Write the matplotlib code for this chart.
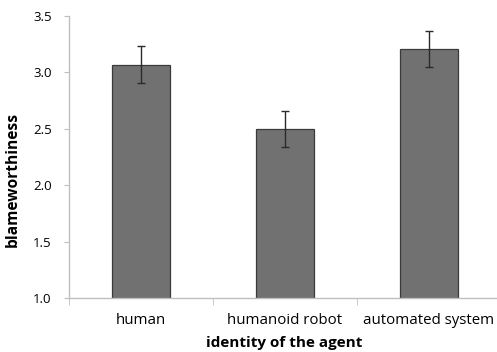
import numpy as np
import matplotlib
matplotlib.use("Agg")
import matplotlib.pyplot as plt

categories = ["human", "humanoid robot", "automated system"]
means = [3.07, 2.50, 3.205]
errors = [0.165, 0.16, 0.16]

plt.rcParams['font.family'] = ['Open Sans', 'DejaVu Sans']

fig = plt.figure(figsize=(4.97, 3.52), dpi=100)
ax = fig.add_axes([69/497, 54/352, 432/497, 282/352])

x = np.arange(len(categories))
base = 1.0
ax.bar(x, np.array(means) - base, bottom=base, width=0.4, color="#717171",
       edgecolor="#3a3a3a", linewidth=0.9, zorder=2)
ax.errorbar(x, means, yerr=errors, fmt="none", ecolor="#2a2a2a",
            elinewidth=1.0, capsize=3, capthick=1.0, zorder=3)

ax.set_xlim(-0.5, 2.5)
ax.set_ylim(1.0, 3.5)
yt = np.arange(1.0, 3.51, 0.5)
ax.set_yticks(yt)
ax.set_yticklabels(["%.1f" % v for v in yt], fontsize=9.5)

ax.set_xticks(x)
ax.set_xticklabels(categories, fontsize=10.8)
ax.set_xticks([-0.5, 0.5, 1.5, 2.5], minor=True)
ax.tick_params(axis="x", which="major", length=0, pad=11)
ax.tick_params(axis="x", which="minor", length=5, color="#bfbfbf")
ax.tick_params(axis="y", length=3.5, color="#bfbfbf", pad=9)

for s in ["top", "right"]:
    ax.spines[s].set_visible(False)
for s in ["left", "bottom"]:
    ax.spines[s].set_color("#bfbfbf")
    ax.spines[s].set_linewidth(1.0)

ax.set_ylabel("blameworthiness", fontsize=11.2, fontweight="bold")
ax.yaxis.set_label_coords(-0.111, 0.42)
ax.set_xlabel("identity of the agent", fontsize=11, fontweight="bold")
ax.xaxis.set_label_coords(0.499, -0.135)

fig.savefig("out.png", dpi=100)
